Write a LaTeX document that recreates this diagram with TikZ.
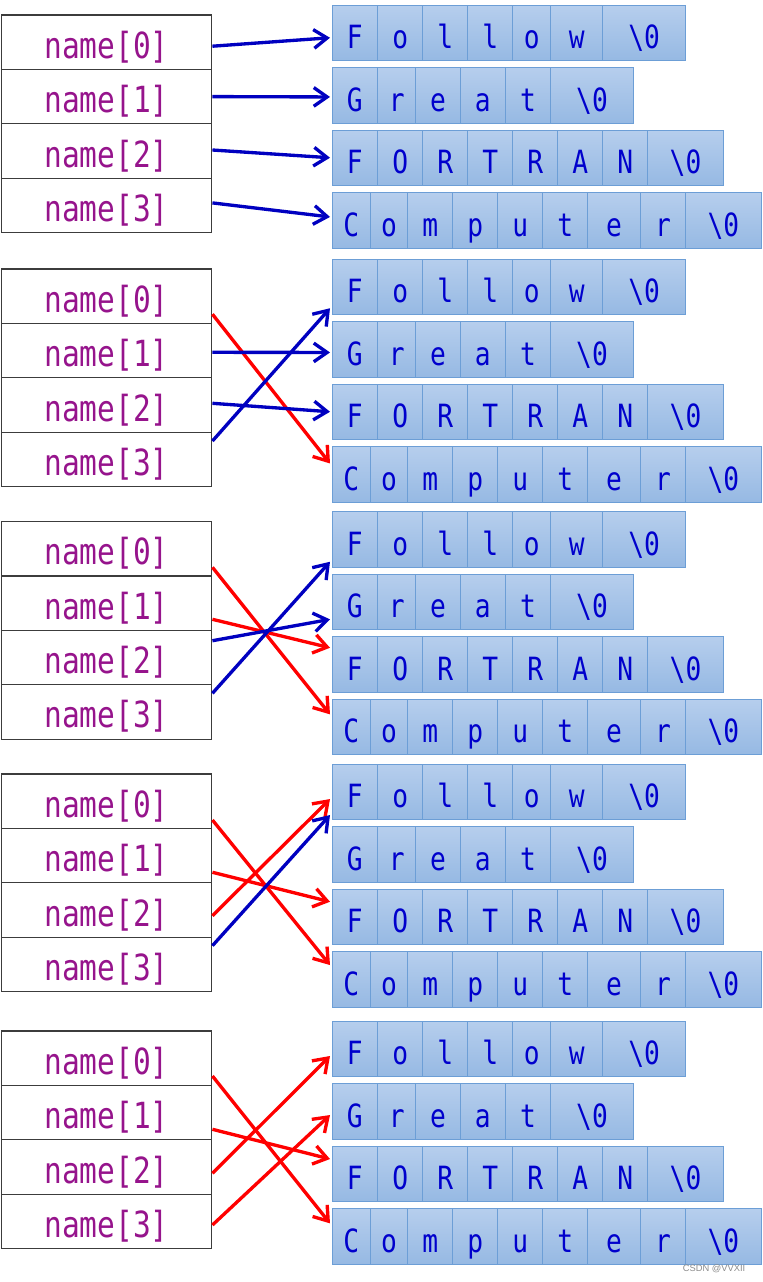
\documentclass[tikz,border=0pt]{standalone}
\usepackage{fontspec}
\usetikzlibrary{arrows.meta,calc}

\newfontfamily\strfont[FakeStretch=0.82]{DejaVu Sans Mono}
\newfontfamily\markfont{Liberation Sans}

\definecolor{namepurple}{RGB}{150,20,140}
\definecolor{charblue}{RGB}{0,0,204}
\definecolor{boxgray}{RGB}{60,60,60}
\definecolor{celltop}{RGB}{182,206,237}
\definecolor{cellbot}{RGB}{150,185,227}
\definecolor{cellline}{RGB}{108,158,214}
\definecolor{ptrblue}{RGB}{0,0,192}
\definecolor{ptrred}{RGB}{255,0,0}

\tikzset{
    namebox/.style={draw=boxgray, line width=0.9pt, minimum width=158pt, minimum height=40.8pt,
        inner sep=0pt, text height=24pt, text depth=0pt,
        font=\strfont\fontsize{27}{27}\selectfont, text=namepurple},
    cellbox/.style={draw=cellline, line width=0.6pt, top color=celltop, bottom color=cellbot,
        minimum height=41.5pt, inner sep=0pt, text height=24pt, text depth=0pt,
        font=\strfont\fontsize{24}{24}\selectfont, text=charblue},
    ptr/.style={line width=2.5pt, -{Straight Barb[length=10pt,width=14pt]}},
    ptrb/.style={ptr, draw=ptrblue},
    ptrr/.style={ptr, draw=ptrred},
}

% one string: name, top y, cells left/right/char
\newcommand{\strrow}[3]{%
    \coordinate (#1) at (330,{#2+27.75});
    \foreach \a/\z/\ch [count=\i] in {#3}
        \node[cellbox, minimum width={(\z-\a)*0.75pt}] (#1-\i) at ({(\a+\z)/2},{#2+27.75}) {\ch};
}

\begin{document}
\begin{tikzpicture}[x=0.75pt,y=-0.75pt]
    \useasboundingbox (0,0) rectangle (763,1282);

    \foreach \b/\o in {1/0, 2/254, 3/506.5, 4/759, 5/1016} {
        % pointer array
        \foreach \k in {0,...,3}
            \node[namebox] (n\b\k) at (106.5,{\o+42.2+54.4*\k}) {name[\k]};
        % strings
        \strrow{fol\b}{\o+5}{332/377.7/F, 377.7/422.7/o, 422.7/467.7/l, 467.7/512.7/l,
            512.7/550.7/o, 550.7/602.7/w, 602.7/685.7/\textbackslash0}
        \strrow{gre\b}{\o+67.7}{332/377.7/G, 377.7/415.7/r, 415.7/460.3/e, 460.3/505.3/a,
            505.3/550.7/t, 550.7/633.3/\textbackslash0}
        \strrow{for\b}{\o+130}{332/377.7/F, 377.7/422.7/O, 422.7/467.7/R, 467.7/512.7/T,
            512.7/557.7/R, 557.7/602.7/A, 602.7/647.7/N, 647.7/723.3/\textbackslash0}
        \strrow{com\b}{\o+192.7}{332/370.3/C, 370.3/407.7/o, 407.7/452.7/m, 452.7/497.7/p,
            497.7/542.7/u, 542.7/587.7/t, 587.7/640.3/e, 640.3/685.7/r, 685.7/761/\textbackslash0}
    }

    % before sorting
    \draw [ptrb] ($(n10.east)+(0,4)$) -- ($(fol1)+(0,5)$);
    \draw [ptrb] ($(n11.east)+(0,0)$) -- ($(gre1)+(0,1.5)$);
    \draw [ptrb] ($(n12.east)+(0,-1)$) -- ($(for1)+(0,0)$);
    \draw [ptrb] ($(n13.east)+(0,-2.5)$) -- ($(com1)+(0,-3.5)$);

    % step 1
    \draw [ptrr] ($(n20.east)+(0,18)$) -- ($(com2)+(0,-11)$);
    \draw [ptrb] ($(n21.east)+(0,1.7)$) -- ($(gre2)+(0,3)$);
    \draw [ptrb] ($(n22.east)+(0,-1.7)$) -- ($(for2)+(0,0)$);
    \draw [ptrb] ($(n23.east)+(0,-18.4)$) -- ($(fol2)+(0,21.5)$);

    % step 2
    \draw [ptrr] ($(n30.east)+(0,18.6)$) -- ($(com3)+(0,-12.6)$);
    \draw [ptrr] ($(n31.east)+(0,16.2)$) -- ($(for3)+(0,-16.5)$);
    \draw [ptrb] ($(n32.east)+(0,-16.8)$) -- ($(gre3)+(0,17.4)$);
    \draw [ptrb] ($(n33.east)+(0,-18.6)$) -- ($(fol3)+(0,22.5)$);

    % step 3
    \draw [ptrr] ($(n40.east)+(0,18.8)$) -- ($(com4)+(0,-14.4)$);
    \draw [ptrr] ($(n41.east)+(0,16.7)$) -- ($(for4)+(0,-15)$);
    \draw [ptrr] ($(n42.east)+(0,5.7)$) -- ($(fol4)+(0,7.3)$);
    \draw [ptrb] ($(n43.east)+(0,-18.7)$) -- ($(fol4)+(0,23.3)$);

    % after sorting
    \draw [ptrr] ($(n50.east)+(0,17.8)$) -- ($(com5)+(0,-13.1)$);
    \draw [ptrr] ($(n51.east)+(0,16.7)$) -- ($(for5)+(0,-14.75)$);
    \draw [ptrr] ($(n52.east)+(0,6.3)$) -- ($(fol5)+(0,7.25)$);
    \draw [ptrr] ($(n53.east)+(0,3.6)$) -- ($(gre5)+(0,3.6)$);

    \node [font=\markfont\fontsize{7}{7}\selectfont, text=black!45, anchor=east] (mark) at (750,1269) {CSDN @VVXII};
\end{tikzpicture}
\end{document}
